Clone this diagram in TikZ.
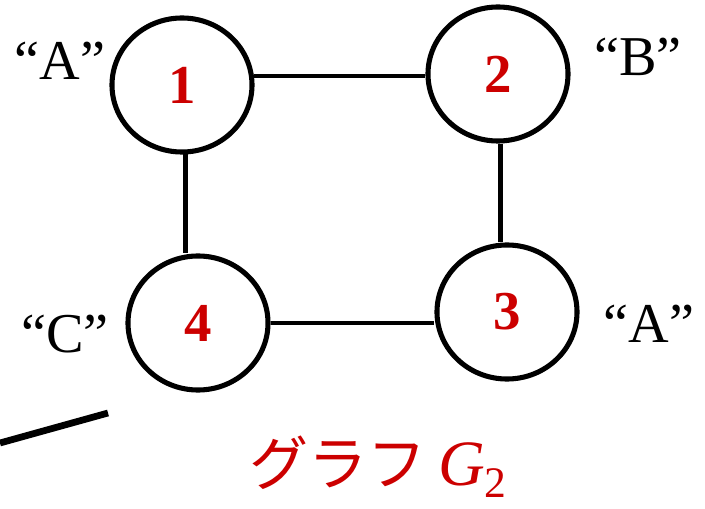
\documentclass[tikz,border=0pt]{standalone}
\usepackage{fontspec}
\setmainfont{Liberation Serif}
\newfontfamily\jpfont{Noto Sans CJK JP}
\usetikzlibrary{shapes.geometric}
\definecolor{numred}{RGB}{204,0,0}

\begin{document}
\begin{tikzpicture}[x=0.025cm,y=0.025cm,
    vertex/.style={ellipse,draw,line width=3.6pt,minimum width=3.5cm,minimum height=3.35cm,
                   inner sep=0pt,text=numred,font=\fontsize{39}{39}\selectfont\bfseries},
    tag/.style={anchor=base,font=\fontsize{40}{40}\selectfont},
    link/.style={line width=3.2pt}]
  \useasboundingbox (0,0) rectangle (705,508);

  \node[vertex] (one) at (182,423) {1};
  \node[vertex] (two) at (498,434) {2};
  \node[vertex] (three) at (507,196) {3};
  \node[vertex] (four) at (198,185) {4};

  \node[tag] (tagone) at (60,428) {“A”};
  \node[tag] (tagtwo) at (638,432) {“B”};
  \node[tag] (tagthree) at (649,166) {“A”};
  \node[tag] (tagfour) at (65,155) {“C”};

  \draw[link] (one.7) -- (one.7 -| two.west);
  \draw[link] (one.-87) -- (one.-87 |- four.north);
  \draw[link] (two.-88) -- (two.-88 |- three.north);
  \draw[link] (four.east) -- (four.east -| three.west);

  \coordinate (cut) at (0,65);
  \coordinate (tip) at (108,95);
  \draw[line width=4.8pt] (cut) -- (tip);

  \node[anchor=base,text=numred,font=\fontsize{46}{46}\selectfont,inner sep=0pt] (caption) at (378,23)
    {{\jpfont\fontsize{42}{42}\selectfont グラフ}\hspace{0.18em}\textit{G}\raisebox{-0.2em}{\fontsize{31}{31}\selectfont 2}};
\end{tikzpicture}
\end{document}
